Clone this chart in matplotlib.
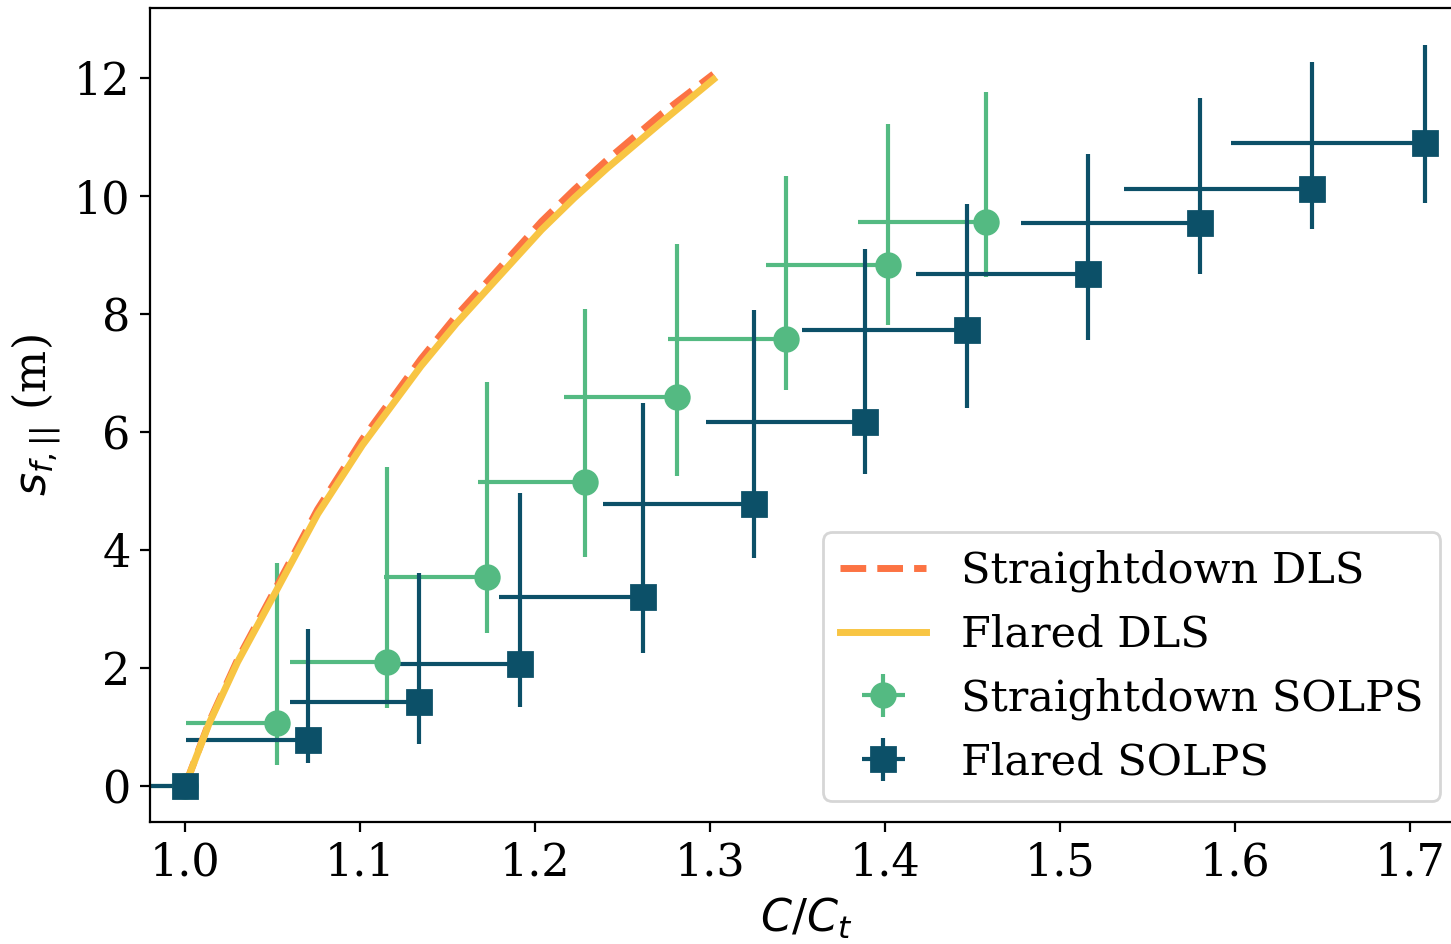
import matplotlib
matplotlib.use("Agg")
import matplotlib.pyplot as plt
import numpy as np

# Curvas DLS
dls_x = [1.000, 1.0139, 1.030, 1.0529, 1.0758, 1.1014, 1.1349, 1.155, 1.1743, 1.2038, 1.2225, 1.2411, 1.2726, 1.3021]
flared_dls_y = [0.00, 1.07, 2.10, 3.35, 4.61, 5.78, 7.12, 7.84, 8.47, 9.43, 9.97, 10.47, 11.26, 11.98]
straight_dls_y = [0.00, 1.09, 2.14, 3.41, 4.69, 5.88, 7.24, 7.97, 8.60, 9.57, 10.11, 10.61, 11.40, 12.07]

# Straightdown SOLPS
sd_x = [1.000, 1.0526, 1.1154, 1.1726, 1.2286, 1.2811, 1.3434, 1.4017, 1.4577]
sd_y = [0.00, 1.07, 2.10, 3.54, 5.15, 6.59, 7.58, 8.83, 9.56]
sd_x_lo = [0.96, 1.0006, 1.060, 1.114, 1.1674, 1.2166, 1.276, 1.332, 1.3846]
sd_y_lo = [0.00, 0.36, 1.32, 2.59, 3.88, 5.25, 6.71, 7.81, 8.63]
sd_y_hi = [0.00, 3.78, 5.41, 6.85, 8.08, 9.19, 10.34, 11.22, 11.76]

# Flared SOLPS
fl_x = [1.000, 1.0703, 1.1337, 1.1914, 1.2617, 1.3251, 1.3886, 1.4469, 1.516, 1.580, 1.644, 1.709]
fl_y = [0.00, 0.78, 1.42, 2.07, 3.20, 4.78, 6.17, 7.73, 8.68, 9.54, 10.12, 10.90]
fl_x_lo = [0.96, 1.0006, 1.060, 1.117, 1.1794, 1.2389, 1.2977, 1.3526, 1.4177, 1.4777, 1.537, 1.598]
fl_y_lo = [0.00, 0.39, 0.71, 1.34, 2.25, 3.86, 5.29, 6.41, 7.56, 8.68, 9.44, 9.88]
fl_y_hi = [0.00, 2.66, 3.61, 4.97, 6.49, 8.07, 9.10, 9.86, 10.71, 11.66, 12.27, 12.56]

plt.rcParams['font.family'] = 'serif'
plt.rcParams['font.serif'] = ['DejaVu Serif']
plt.rcParams['font.size'] = 16

fig = plt.figure(figsize=(7.255, 4.72), dpi=200)
ax = fig.add_axes([0.1034, 0.1292, 0.9042, 0.8623])

verde = '#54BA82'
azul = '#0C5068'

ax.plot(dls_x, straight_dls_y, '--', color='#FC7343', lw=2.5, label='Straightdown DLS', zorder=2.5)
ax.plot(dls_x, flared_dls_y, '-', color='#F8C543', lw=2.5, label='Flared DLS', zorder=2.6)


def barras(x, y, xlo, ylo, yhi, color, marker, label):
    x = np.array(x)
    y = np.array(y)
    xerr = [x - np.array(xlo), np.zeros_like(x)]
    yerr = [y - np.array(ylo), np.array(yhi) - y]
    line, caps, cols = ax.errorbar(x, y, xerr=xerr, yerr=yerr, fmt=marker, color=color,
                                   markersize=8.5, elinewidth=1.5, label=label)
    line.set_zorder(3)
    for c in cols:
        c.set_zorder(2)


barras(sd_x, sd_y, sd_x_lo, sd_y_lo, sd_y_hi, verde, 'o', 'Straightdown SOLPS')
barras(fl_x, fl_y, fl_x_lo, fl_y_lo, fl_y_hi, azul, 's', 'Flared SOLPS')

ax.set_xlim(0.98, 1.73)
ax.set_ylim(-0.61, 13.19)
ax.set_xticks([1.0, 1.1, 1.2, 1.3, 1.4, 1.5, 1.6, 1.7])
ax.set_yticks([0, 2, 4, 6, 8, 10, 12])
ax.set_xlabel('$C/C_t$')
ax.set_ylabel('$s_{f,||}$ (m)')
ax.legend(loc='lower right', fontsize=15.5)

fig.savefig('out.png', dpi=200)
